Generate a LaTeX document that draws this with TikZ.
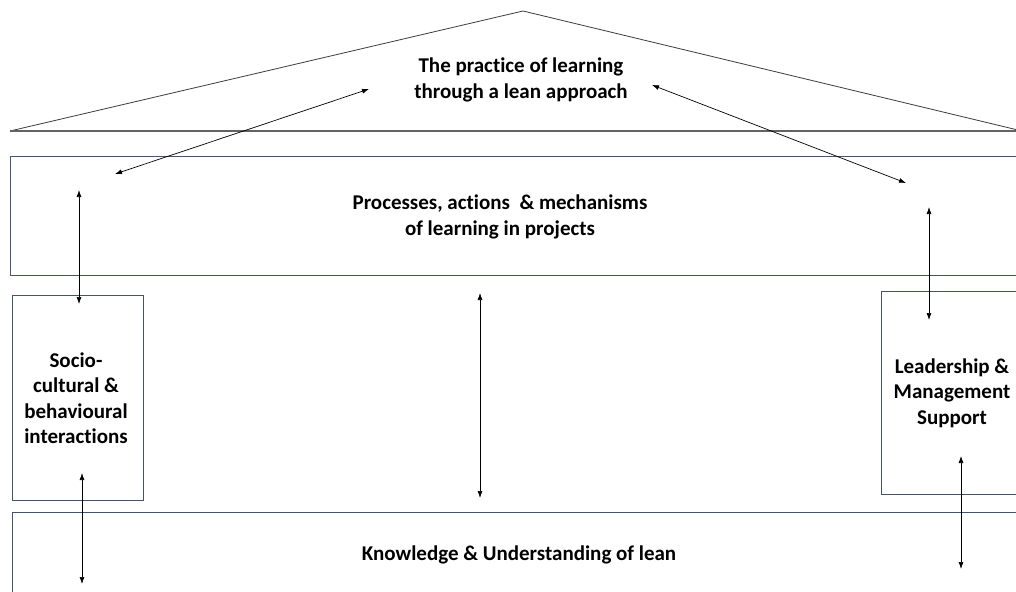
\documentclass[tikz,border=0pt]{standalone}
\usepackage{fontspec}
\setmainfont{Carlito}[Ligatures=NoCommon]
\usetikzlibrary{arrows.meta}
\definecolor{frameline}{RGB}{68, 84, 106}
\definecolor{roofline}{RGB}{60, 60, 60}

\begin{document}
\begin{tikzpicture}[x=1pt, y=-1pt, font=\bfseries\fontsize{21}{25.5}\selectfont,
    layer/.style={draw=frameline, line width=0.8pt, anchor=north west, inner sep=0pt},
    caption/.style={align=center, inner sep=0pt},
    link/.style={{Latex[length=7pt,width=5pt]}-{Latex[length=7pt,width=5pt]}, line width=0.7pt}]
        \useasboundingbox (0,0) rectangle (1016,591);

        % roof
        \coordinate (eaveL) at (10,131);
        \coordinate (ridge) at (523,11);
        \coordinate (eaveR) at (1022,131);
        \draw[roofline, line width=0.8pt] (eaveL) -- (ridge) -- (eaveR);
        \draw[roofline!80, line width=1.2pt] (eaveL) -- (eaveR);
        \node[caption] (practice) at (521,80) {The practice of learning\\through a lean approach};

        % floors and pillars
        \node[layer, minimum width=1014pt, minimum height=119pt] (process) at (10,156) {};
        \node[layer, minimum width=131pt, minimum height=205pt] (socio) at (12,295) {};
        \node[layer, minimum width=140pt, minimum height=203pt] (leader) at (881,291) {};
        \node[layer, minimum width=1012pt, minimum height=90pt] (knowledge) at (12,512) {};

        \node[caption] (processText) at (500,217) {Processes, actions~ \& mechanisms\\of learning in projects};
        \node[caption] (socioText) at (76,398) {Socio-\\cultural \&\\behavioural\\interactions};
        \node[caption] (leaderText) at (952,393) {Leadership \&\\Management\\Support};
        \node[caption] (knowledgeText) at (519,555) {Knowledge \& Understanding of lean};

        % two-way links
        \foreach \n/\xa/\ya/\xb/\yb in {
            roofL/115/174/369/89,
            roofR/652/85/906/183,
            socioUp/79/190/79/304,
            socioDown/82/473/82/584,
            middle/480/293/480/498,
            leaderUp/929/207/929/320,
            leaderDown/961/456/961/569}
        {
            \coordinate (\n A) at (\xa,\ya);
            \coordinate (\n B) at (\xb,\yb);
            \draw[link] (\n A) -- (\n B);
        }
    \end{tikzpicture}
\end{document}
